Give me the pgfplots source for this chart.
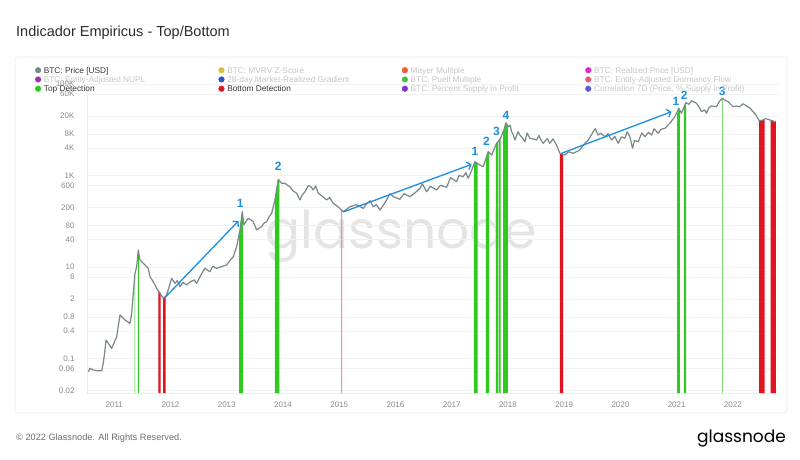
\documentclass[border=0pt]{standalone}
\usepackage{pgfplots}
\pgfplotsset{compat=1.18}
\usepackage{pgfplotstable}
\usepackage{fontspec}
\setmainfont{Liberation Sans}
\newfontfamily\poppins{Poppins}
\usetikzlibrary{arrows.meta}
\definecolor{pricegray}{HTML}{7A878A}
\definecolor{topgreen}{HTML}{2DCB1E}
\definecolor{lightgreen}{HTML}{7ED86F}
\definecolor{botred}{HTML}{E0141E}
\definecolor{lightred}{HTML}{D86868}
\definecolor{annblue}{HTML}{1C8FE3}
\definecolor{ticktext}{HTML}{8A8A8A}
\definecolor{fadetext}{HTML}{C6C6C6}
\definecolor{darktext}{HTML}{353535}
\definecolor{titlec}{HTML}{2B2B2B}
\definecolor{footc}{HTML}{6E6E6E}
\definecolor{wmgray}{HTML}{E4E4E4}
\definecolor{panelc}{HTML}{ECECEC}
\definecolor{gridc}{HTML}{F1F1F1}
\definecolor{cMVRV}{HTML}{D4C23C}
\definecolor{cMayer}{HTML}{F0572A}
\definecolor{cRealized}{HTML}{E024D8}
\definecolor{cNUPL}{HTML}{9C2FAE}
\definecolor{cGrad}{HTML}{2A55C8}
\definecolor{cPuell}{HTML}{4CBB3C}
\definecolor{cDorm}{HTML}{E2577F}
\definecolor{cPSP}{HTML}{7A2FD8}
\definecolor{cCorr}{HTML}{5A5FD8}
\newcommand{\LE}[1]{\makebox[177.4pt][l]{\hspace{2.8pt}\textcolor{darktext}{#1}}}
\newcommand{\LF}[1]{\makebox[177.4pt][l]{\hspace{2.8pt}\textcolor{fadetext}{#1}}}

\pgfplotstableread{
year price
2010.538 0.0512
2010.568 0.0607
2010.627 0.0557
2010.687 0.0538
2010.776 0.0538
2010.804 0.078
2010.835 0.152
2010.852 0.252
2010.893 0.214
2010.954 0.166
2011.043 0.298
2011.101 0.889
2011.190 0.69
2011.279 0.585
2011.309 0.968
2011.338 2.65
2011.368 7.24
2011.398 10.1
2011.427 23.4
2011.457 14.2
2011.516 12.0
2011.604 9.33
2011.635 6.11
2011.693 4.75
2011.754 3.40
2011.812 2.65
2011.871 2.06
2011.932 2.43
2012.020 5.64
2012.079 4.38
2012.120 5.0
2012.168 3.69
2012.220 4.6
2012.287 4.03
2012.350 4.7
2012.420 5.2
2012.465 4.38
2012.530 6.3
2012.612 9.33
2012.701 7.86
2012.750 10.3
2012.820 9.33
2012.900 10.1
2012.998 11.0
2013.050 13.5
2013.116 16.7
2013.176 27.7
2013.235 64.1
2013.276 161
2013.306 82.6
2013.340 98
2013.382 116
2013.420 108
2013.471 97.5
2013.532 64.1
2013.570 70
2013.620 75.8
2013.660 90
2013.709 97.5
2013.750 122
2013.798 149
2013.857 291
2013.916 824
2013.976 674
2014.035 674
2014.080 610
2014.124 568
2014.170 470
2014.243 407
2014.301 291
2014.340 370
2014.390 441
2014.450 600
2014.500 560
2014.538 481
2014.580 590
2014.627 407
2014.700 350
2014.776 291
2014.830 330
2014.893 246
2014.950 220
2015.012 191
2015.071 161
2015.190 207
2015.300 230
2015.427 191
2015.500 250
2015.550 280
2015.604 207
2015.660 230
2015.724 176
2015.800 240
2015.843 291
2015.900 400
2015.960 344
2016.079 301
2016.150 400
2016.257 344
2016.350 420
2016.435 524
2016.480 650
2016.554 441
2016.620 580
2016.732 481
2016.800 610
2016.909 551
2016.980 900
2017.087 731
2017.130 1000
2017.204 940
2017.250 1150
2017.293 867
2017.350 1250
2017.412 2000
2017.501 1694
2017.560 1555
2017.649 3311
2017.709 2800
2017.798 5050
2017.869 6500
2017.928 9860
2017.964 14250
2018.004 11650
2018.040 12500
2018.065 9060
2018.090 8000
2018.124 5960
2018.180 9000
2018.213 7670
2018.250 6800
2018.302 5470
2018.340 8500
2018.390 6500
2018.450 6300
2018.509 5960
2018.550 7500
2018.580 6200
2018.627 5050
2018.700 6400
2018.746 5050
2018.800 6300
2018.864 4640
2018.923 3050
2019.012 2800
2019.080 3300
2019.160 3050
2019.279 3600
2019.338 4640
2019.427 5960
2019.516 9060
2019.550 10500
2019.604 7670
2019.650 8400
2019.724 7040
2019.780 8200
2019.843 5960
2019.900 7200
2019.960 5050
2020.020 7000
2020.079 6500
2020.120 9000
2020.168 7040
2020.216 3930
2020.250 5800
2020.316 5470
2020.380 8500
2020.435 7040
2020.500 8800
2020.554 7670
2020.600 10500
2020.671 8360
2020.720 10200
2020.790 10740
2020.879 13830
2020.968 19280
2021.039 29430
2021.087 22870
2021.163 39000
2021.220 36000
2021.265 43150
2021.310 40000
2021.354 37840
2021.400 31000
2021.442 24790
2021.500 27000
2021.532 22870
2021.570 30000
2021.620 33040
2021.709 31880
2021.760 42000
2021.816 48680
2021.860 44000
2021.916 41020
2021.960 36000
2022.004 31880
2022.060 33000
2022.124 31880
2022.180 37000
2022.243 33040
2022.300 30000
2022.360 24790
2022.420 20000
2022.467 15750
2022.536 16330
2022.580 17500
2022.625 16910
2022.680 16000
2022.732 15000
2022.765 15200
}\pricedata

\begin{document}
\begin{tikzpicture}[x=1pt,y=1pt]
\useasboundingbox (0pt,0pt) rectangle (800pt,459pt);
\fill[white] (0pt,0pt) rectangle (800pt,459pt);
\draw[panelc, line width=0.8pt, rounded corners=3pt] (15pt,46pt) rectangle (787pt,402pt);
\node[anchor=base west, inner sep=0pt, font=\fontsize{14.5}{16}\selectfont, text=titlec] at (16pt,422.5pt) {Indicador Empiricus - Top/Bottom};
\node[anchor=base west, inner sep=0pt, font=\fontsize{9.2}{10}\selectfont, text=footc] at (16pt,19pt) {\textcopyright{} 2022 Glassnode. All Rights Reserved.};
\node[anchor=base east, inner sep=0pt, font=\poppins\fontsize{17}{17}\selectfont, text=black] at (786pt,17pt) {glassnode};
\node[anchor=base, inner sep=0pt, font=\poppins\fontsize{52}{52}\selectfont, text=wmgray] at (401.5pt,211pt) {glassnode};
\begin{axis}[
  at={(87pt,66pt)}, anchor=south west,
  scale only axis, width=692pt, height=309pt,
  xmin=2010.515, xmax=2022.82,
  ymode=log, ymin=0.0175, ymax=100000,
  axis x line*=bottom, axis y line*=left,
  axis line style={draw=panelc, -},
  major tick length=0pt,
  xtick={2011,2012,2013,2014,2015,2016,2017,2018,2019,2020,2021,2022},
  xticklabels={2011,2012,2013,2014,2015,2016,2017,2018,2019,2020,2021,2022},
  ytick={0.02,0.06,0.1,0.4,0.8,2,6,10,40,80,200,600,1000,4000,8000,20000,60000,100000},
  yticklabels={0.02,0.06,0.1,0.4,0.8,2,6,10,40,80,200,600,1K,4K,8K,20K,60K,100K},
  /pgf/number format/assume math mode=true,
  ticklabel style={font=\fontsize{8}{9}\selectfont, text=ticktext},
  yticklabel style={xshift=-9pt},
  xticklabel style={yshift=-5pt},
  ymajorgrids, major grid style={draw=gridc, line width=0.6pt},
  clip=false,
  legend columns=4,
  legend cell align=left,
  legend image code/.code={\fill[#1] (2.8pt,0.9pt) circle (2.8pt);},
  legend style={draw=none, fill=none, at={(-0.0753,1.055)}, anchor=north west,
    font=\fontsize{8.3}{9}\selectfont, inner sep=0pt, row sep=1.6pt,
    nodes={inner sep=0pt}, /tikz/every even column/.style={column sep=0pt}},
]
% detection bands
\addplot[fill=topgreen, draw=none, forget plot] coordinates {(2011.360,0.0175) (2011.360,5.5) (2011.372,7.5) (2011.372,0.0175)};
\addplot[fill=topgreen, draw=none, forget plot] coordinates {(2011.423,0.0175) (2011.423,21) (2011.437,21) (2011.437,0.0175)};
\addplot[fill=botred, draw=none, forget plot] coordinates {(2011.782,0.0175) (2011.782,3.1) (2011.822,2.7) (2011.822,0.0175)};
\addplot[fill=botred, draw=none, forget plot] coordinates {(2011.868,0.0175) (2011.868,2.1) (2011.912,2.3) (2011.912,0.0175)};
\addplot[fill=topgreen, draw=none, forget plot] coordinates {(2013.222,0.0175) (2013.222,50) (2013.235,64.1) (2013.276,161) (2013.285,130) (2013.285,0.0175)};
\addplot[fill=topgreen, draw=none, forget plot] coordinates {(2013.855,0.0175) (2013.855,280) (2013.916,824) (2013.935,780) (2013.935,0.0175)};
\addplot[fill=lightred, draw=none, forget plot] coordinates {(2015.036,0.0175) (2015.036,175) (2015.050,170) (2015.050,0.0175)};
\addplot[fill=topgreen, draw=none, forget plot] coordinates {(2017.400,0.0175) (2017.400,1900) (2017.412,2000) (2017.460,1800) (2017.460,0.0175)};
\addplot[fill=topgreen, draw=none, forget plot] coordinates {(2017.608,0.0175) (2017.608,2200) (2017.649,3311) (2017.667,3100) (2017.667,0.0175)};
\addplot[fill=topgreen, draw=none, forget plot] coordinates {(2017.786,0.0175) (2017.786,4800) (2017.821,5500) (2017.821,0.0175)};
\addplot[fill=topgreen, draw=none, forget plot] coordinates {(2017.834,0.0175) (2017.834,5800) (2017.869,6500) (2017.869,0.0175)};
\addplot[fill=topgreen, draw=none, forget plot] coordinates {(2017.916,0.0175) (2017.916,9000) (2017.928,9860) (2017.964,14250) (2017.999,12000) (2017.999,0.0175)};
\addplot[fill=botred, draw=none, forget plot] coordinates {(2018.924,0.0175) (2018.924,3050) (2018.982,2850) (2018.982,0.0175)};
\addplot[fill=topgreen, draw=none, forget plot] coordinates {(2021.009,0.0175) (2021.009,22000) (2021.039,29430) (2021.057,26000) (2021.057,0.0175)};
\addplot[fill=topgreen, draw=none, forget plot] coordinates {(2021.133,0.0175) (2021.133,33000) (2021.169,39000) (2021.169,0.0175)};
\addplot[fill=lightgreen, draw=none, forget plot] coordinates {(2021.810,0.0175) (2021.810,47000) (2021.822,48680) (2021.822,0.0175)};
\addplot[fill=botred, draw=none, forget plot] coordinates {(2022.467,0.0175) (2022.467,15750) (2022.563,16400) (2022.563,0.0175)};
\addplot[fill=botred, draw=none, forget plot] coordinates {(2022.669,0.0175) (2022.669,16500) (2022.764,15200) (2022.764,0.0175)};
% price
\addplot[pricegray, line width=1.2pt, line join=round, forget plot] table[x=year, y=price] {\pricedata};
% annotations
\draw[annblue, line width=1.3pt, -{Straight Barb[length=3.5pt,width=8pt]}] (axis cs:2011.910,2.20) -- (axis cs:2013.208,101);
\draw[annblue, line width=1.3pt, -{Straight Barb[length=3.5pt,width=8pt]}] (axis cs:2015.071,159) -- (axis cs:2017.354,1754);
\draw[annblue, line width=1.3pt, -{Straight Barb[length=3.5pt,width=8pt]}] (axis cs:2018.954,3055) -- (axis cs:2020.909,24800);
\begin{scope}[every node/.style={text=annblue, font=\bfseries\fontsize{12}{12}\selectfont, inner sep=0pt}]
\node at (axis cs:2013.238,246) {1};
\node at (axis cs:2013.916,1555) {2};
\node at (axis cs:2017.412,3311) {1};
\node at (axis cs:2017.620,5470) {2};
\node at (axis cs:2017.798,9060) {3};
\node at (axis cs:2017.964,21000) {4};
\node at (axis cs:2020.986,41000) {1};
\node at (axis cs:2021.133,57400) {2};
\node at (axis cs:2021.809,67900) {3};
\end{scope}
% legend
\addlegendimage{pricegray}\addlegendentry{\LE{BTC: Price [USD]}}
\addlegendimage{cMVRV}\addlegendentry{\LF{BTC: MVRV Z-Score}}
\addlegendimage{cMayer}\addlegendentry{\LF{Mayer Multiple}}
\addlegendimage{cRealized}\addlegendentry{\LF{BTC: Realized Price [USD]}}
\addlegendimage{cNUPL}\addlegendentry{\LF{BTC: Entity-Adjusted NUPL}}
\addlegendimage{cGrad}\addlegendentry{\LF{28-day Market-Realized Gradient}}
\addlegendimage{cPuell}\addlegendentry{\LF{BTC: Puell Multiple}}
\addlegendimage{cDorm}\addlegendentry{\LF{BTC: Entity-Adjusted Dormancy Flow}}
\addlegendimage{topgreen}\addlegendentry{\LE{Top Detection}}
\addlegendimage{botred}\addlegendentry{\LE{Bottom Detection}}
\addlegendimage{cPSP}\addlegendentry{\LF{BTC: Percent Supply in Profit}}
\addlegendimage{cCorr}\addlegendentry{\LF{Correlation 7D (Price, \% Supply in Profit)}}
\end{axis}
\end{tikzpicture}
\end{document}
